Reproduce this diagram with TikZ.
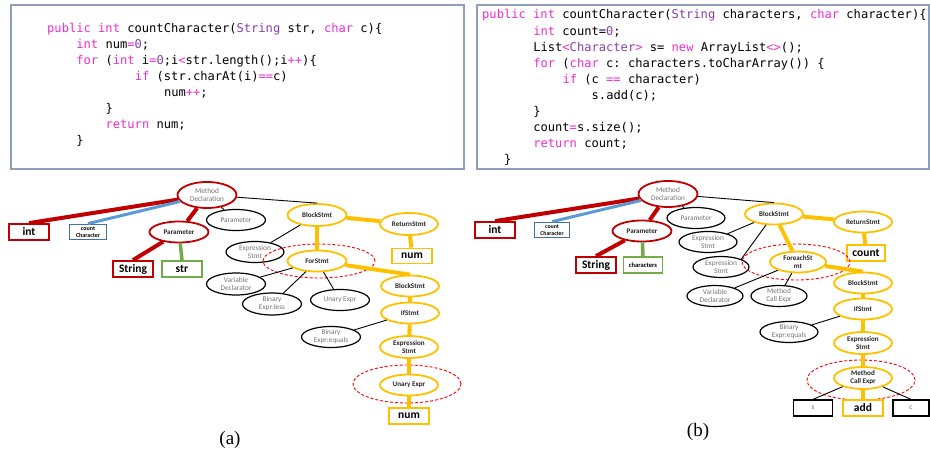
\documentclass[tikz,border=0pt]{standalone}
\usepackage{fontspec}
\setmainfont{Liberation Serif}
\setsansfont{Carlito}
\setmonofont{DejaVu Sans Mono}
\usetikzlibrary{shapes.geometric}

\definecolor{kwpink}{HTML}{EE2BD0}
\definecolor{typurple}{HTML}{8A3DAA}
\definecolor{boxframe}{HTML}{8EA0B8}
\definecolor{astred}{HTML}{C00000}
\definecolor{astyel}{HTML}{FFC000}
\definecolor{ccblue}{HTML}{5B9BD5}
\definecolor{ccframe}{HTML}{41719C}
\definecolor{strgreen}{HTML}{70AD47}

\newcommand{\kw}[1]{\textcolor{kwpink}{#1}}
\newcommand{\ty}[1]{\textcolor{typurple}{#1}}

\begin{document}
\begin{tikzpicture}[x=1pt, y=-1pt,
    codeline/.style={anchor=base west, inner sep=0pt, font=\ttfamily\fontsize{12.1}{14}\selectfont},
    codebox/.style={draw=boxframe, line width=1.3pt},
    ast/.style={ellipse, draw, line width=1.2pt, inner sep=0pt, minimum width=59, minimum height=21,
        align=center, text=black!55, font=\sffamily\fontsize{7.3}{8}\selectfont},
    redast/.style={ast, draw=astred, line width=1.8pt},
    yelast/.style={ast, draw=astyel, line width=1.8pt, text=black!85, font=\sffamily\bfseries\fontsize{7.1}{8}\selectfont},
    leaf/.style={draw, line width=1.8pt, inner sep=0pt, minimum width=40, minimum height=16,
        font=\sffamily\bfseries\fontsize{11.5}{12}\selectfont},
    smallleaf/.style={leaf, font=\sffamily\bfseries\fontsize{6}{6.6}\selectfont, align=center},
    focus/.style={ellipse, draw=red, dash pattern=on 3pt off 2pt, line width=0.9pt},
    link/.style={line width=0.9pt},
    redlink/.style={draw=astred, line width=4pt},
    yellink/.style={draw=astyel, line width=4pt},
    bluelink/.style={draw=ccblue, line width=3pt},
    greenlink/.style={draw=strgreen, line width=3.5pt}]
\useasboundingbox (0,0) rectangle (930,455);

% code of (a)
\draw[codebox] (11,5) rectangle (464,169);
\node[codeline] (la1) at (47,32) {\kw{public} \kw{int} countCharacter(\ty{String} str, \kw{char} c)\{};
\node[codeline] (la2) at (76.2,48) {\kw{int} num\kw{=}\ty{0};};
\node[codeline] (la3) at (76.2,64) {\kw{for} (\kw{int} i\kw{=}\ty{0};i\kw{<}str.length();i\kw{++})\{};
\node[codeline] (la4) at (134.6,80) {\kw{if} (str.charAt(i)\kw{==}c)};
\node[codeline] (la5) at (163.8,96) {num\kw{++};};
\node[codeline] (la6) at (105.4,112) {\}};
\node[codeline] (la7) at (105.4,128) {\kw{return} num;};
\node[codeline] (la8) at (76.2,144) {\}};

% code of (b)
\draw[codebox] (477,5) rectangle (929,169);
\node[codeline] (lb1) at (482,19) {\kw{public} \kw{int} countCharacter(\ty{String} characters, \kw{char} character)\{};
\node[codeline] (lb2) at (533.1,35) {\kw{int} count=\ty{0};};
\node[codeline] (lb3) at (533.1,51) {List\kw{<}\ty{Character}\kw{>} s= \kw{new} ArrayList\kw{<>}();};
\node[codeline] (lb4) at (533.1,67) {\kw{for} (\kw{char} c: characters.toCharArray()) \{};
\node[codeline] (lb5) at (562.3,83) {\kw{if} (c \kw{==} character)};
\node[codeline] (lb6) at (591.5,99) {s.add(c);};
\node[codeline] (lb7) at (533.1,115) {\}};
\node[codeline] (lb8) at (533.1,131) {count\kw{=}s.size();};
\node[codeline] (lb9) at (533.1,147) {\kw{return} count;};
\node[codeline] (lb10) at (503.9,163) {\}};

% tree (a)
\node[redast, minimum height=26] (MDa) at (207,195) {Method\\Declaration};
\node[leaf, draw=astred] (INTa) at (29,232) {int};
\node[smallleaf, draw=ccframe, minimum width=37, minimum height=15] (CCa) at (88,232) {count\\Character};
\node[redast, text=black!85, font=\sffamily\bfseries\fontsize{7.1}{8}\selectfont] (PRa) at (179,232) {Parameter};
\node[leaf, draw=astred] (STRa) at (133,269) {String};
\node[leaf, draw=strgreen] (SVa) at (182,269) {str};
\node[ast] (PBa) at (236,220) {Parameter};
\node[yelast, minimum height=22] (BSa) at (317,215) {BlockStmt};
\node[yelast, minimum width=58, minimum height=22] (RSa) at (409,224) {ReturnStmt};
\node[leaf, draw=astyel, minimum height=15] (NUMa) at (412,256) {num};
\node[ast, minimum width=58] (ESa) at (255,252) {Expression\\Stmt};
\node[yelast] (FSa) at (317,261) {ForStmt};
\node[focus, minimum width=112, minimum height=34] (FOCa) at (319,261) {};
\node[ast, minimum height=22] (VDa) at (236,284) {Variable\\Declarator};
\node[ast, minimum height=22] (BEa) at (272,304) {Binary\\Expr:less};
\node[ast] (UEa) at (340,300) {Unary Expr};
\node[yelast, minimum width=58] (BS2a) at (410,286) {BlockStmt};
\node[yelast, minimum width=58] (IFa) at (410,313) {IfStmt};
\node[ast] (BQa) at (331,337) {Binary\\Expr:equals};
\node[yelast, minimum width=58, minimum height=22] (ES2a) at (409,347) {Expression\\Stmt};
\node[yelast, minimum width=58] (UE2a) at (409,385) {Unary Expr};
\node[focus, minimum width=108, minimum height=38] (FOC2a) at (407,384) {};
\node[leaf, draw=astyel] (NUM2a) at (409,416) {num};
\node[font=\fontsize{19}{22}\selectfont] (capa) at (230,440) {(a)};

\draw[redlink] (INTa.north) -- (MDa);
\draw[bluelink] (CCa.north) -- (MDa);
\draw[redlink] (MDa) -- (PRa);
\draw[redlink] (PRa) -- (STRa.north);
\draw[greenlink] (PRa) -- (SVa.north);
\draw[link] (MDa) -- (PBa);
\draw[link] (MDa) -- (BSa.north);
\draw[yellink] (BSa) -- (RSa);
\draw[yellink] (RSa) -- (NUMa);
\draw[link] (BSa) -- (ESa);
\draw[yellink] (BSa) -- (FSa);
\draw[link] (FSa) -- (VDa);
\draw[link] (FSa) -- (BEa);
\draw[link] (FSa) -- (UEa);
\draw[yellink] (FSa) -- (BS2a.north);
\draw[yellink] (BS2a) -- (IFa);
\draw[link] (IFa) -- (BQa);
\draw[yellink] (IFa) -- (ES2a);
\draw[yellink] (ES2a) -- (UE2a);
\draw[yellink] (UE2a) -- (NUM2a);

% tree (b)
\node[redast, minimum height=26] (MDb) at (668,194) {Method\\Declaration};
\node[leaf, draw=astred] (INTb) at (495,230) {int};
\node[smallleaf, draw=ccframe, minimum width=35, minimum height=15, font=\sffamily\bfseries\fontsize{5.8}{6.4}\selectfont] (CCb) at (552,230) {count\\Character};
\node[redast, text=black!85, font=\sffamily\bfseries\fontsize{7.1}{8}\selectfont] (PRb) at (642,231) {Parameter};
\node[leaf, draw=astred] (STRb) at (596,265) {String};
\node[smallleaf, draw=strgreen, minimum width=39, font=\sffamily\bfseries\fontsize{6.6}{7}\selectfont] (CHb) at (643,265) {characters};
\node[ast, minimum width=58] (PBb) at (696,218) {Parameter};
\node[yelast, minimum width=58] (BSb) at (774,214) {BlockStmt};
\node[yelast, minimum width=58] (RSb) at (863,222) {ReturnStmt};
\node[leaf, draw=astyel, minimum width=38] (CNTb) at (866,253) {count};
\node[ast, minimum width=58] (ESb) at (708,242) {Expression\\Stmt};
\node[ast, minimum width=56] (ES1b) at (721,267) {Expression\\Stmt};
\node[yelast, minimum width=56] (FEb) at (798,262) {ForeachSt\\mt};
\node[focus, minimum width=108, minimum height=36] (FOCb) at (796,262) {};
\node[ast, minimum width=56] (VDb) at (715,296) {Variable\\Declarator};
\node[ast, minimum width=56] (MCb) at (779,296) {Method\\Call Expr};
\node[yelast, minimum width=58] (BS2b) at (863,283) {BlockStmt};
\node[yelast, minimum width=58] (IFb) at (863,309) {IfStmt};
\node[ast, minimum width=58] (BQb) at (789,332) {Binary\\Expr:equals};
\node[yelast, minimum width=58, minimum height=22] (ES2b) at (863,343) {Expression\\Stmt};
\node[yelast, minimum width=58, minimum height=22] (MC2b) at (863,378) {Method\\Call Expr};
\node[focus, minimum width=108, minimum height=40] (FOC2b) at (861,380) {};
\node[leaf, draw, line width=1.3pt, minimum width=39, font=\sffamily\fontsize{7.5}{8}\selectfont, text=black!55] (Sb) at (813,408) {s};
\node[leaf, draw=astyel] (ADDb) at (863,408) {add};
\node[leaf, draw, line width=1.3pt, minimum width=36, font=\sffamily\fontsize{7.5}{8}\selectfont, text=black!55] (Cb) at (911,408) {c};
\node[font=\fontsize{19}{22}\selectfont] (capb) at (698,432) {(b)};

\draw[redlink] (INTb.north) -- (MDb);
\draw[bluelink] (CCb.north) -- (MDb);
\draw[redlink] (MDb) -- (PRb);
\draw[redlink] (PRb) -- (STRb.north);
\draw[greenlink] (PRb) -- (CHb.north);
\draw[link] (MDb) -- (PBb);
\draw[link] (MDb) -- (BSb.north);
\draw[yellink] (BSb) -- (RSb);
\draw[yellink] (RSb) -- (CNTb);
\draw[link] (BSb) -- (ESb);
\draw[link] (BSb) -- (ES1b.north east);
\draw[yellink] (BSb) -- (FEb);
\draw[link] (FEb) -- (VDb);
\draw[link] (FEb) -- (MCb);
\draw[yellink] (FEb) -- (BS2b.north);
\draw[yellink] (BS2b) -- (IFb);
\draw[link] (IFb) -- (BQb);
\draw[yellink] (IFb) -- (ES2b);
\draw[yellink] (ES2b) -- (MC2b);
\draw[yellink] (MC2b) -- (ADDb);
\draw[link] (MC2b) -- (Sb.north);
\draw[link] (MC2b) -- (Cb.north);
\end{tikzpicture}
\end{document}
